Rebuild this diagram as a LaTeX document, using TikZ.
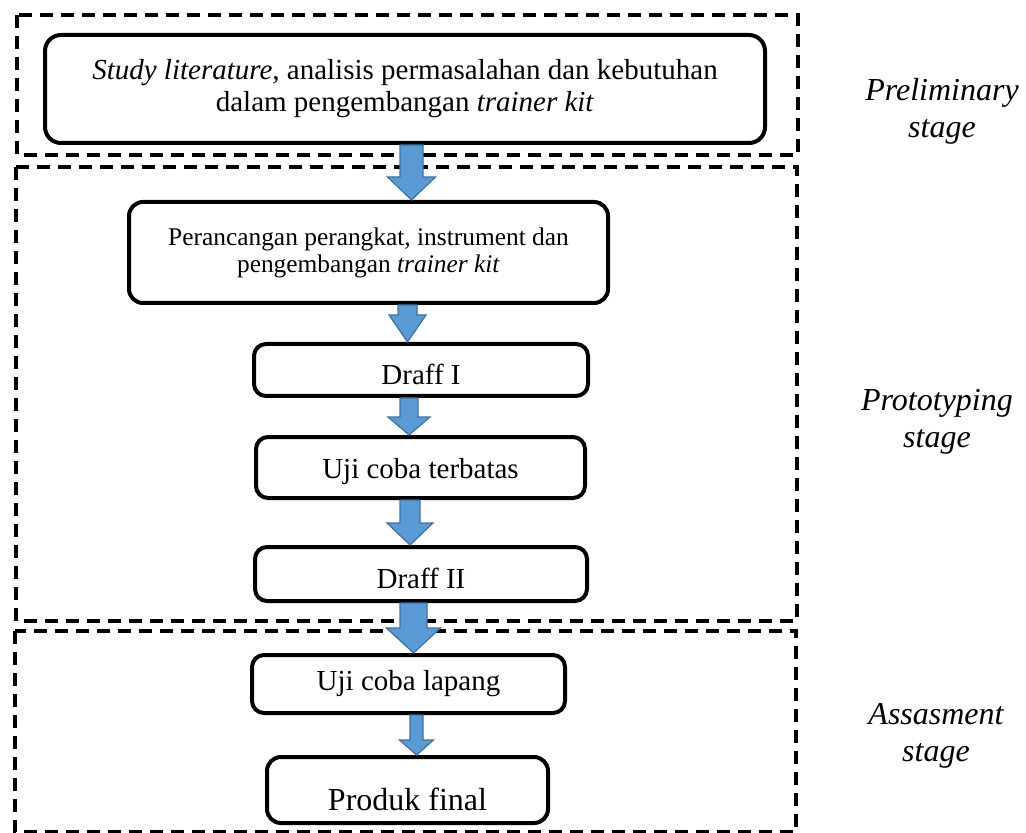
\documentclass[tikz,border=0pt]{standalone}
\usepackage{fontspec}
\setmainfont{Liberation Serif}
\usetikzlibrary{calc}

\definecolor{arrowblue}{HTML}{5B9BD5}
\definecolor{arrowedge}{HTML}{41719C}

\tikzset{
  stepbox/.style={draw, line width=2pt, rounded corners=6pt, fill=white, align=center, inner sep=0pt},
  stageframe/.style={draw, line width=2.2pt, dash pattern=on 6.5pt off 4pt},
  stagelabel/.style={align=center, font=\fontsize{16}{18.5}\selectfont\itshape},
  blockarrow/.style={fill=arrowblue, draw=arrowedge, line width=0.6pt},
}

% block arrow: from, to, x, half shaft, half head, head length (px)
\newcommand{\flowarrow}[6]{%
  \draw[blockarrow] let \p1=(#1.south), \p2=(#2.north), \p3=(#3,0) in
    (\x3-#4*0.5pt,\y1) -- (\x3+#4*0.5pt,\y1) -- (\x3+#4*0.5pt,\y2+#6*0.5pt)
    -- (\x3+#5*0.5pt,\y2+#6*0.5pt) -- (\x3,\y2) -- (\x3-#5*0.5pt,\y2+#6*0.5pt)
    -- (\x3-#4*0.5pt,\y2+#6*0.5pt) -- cycle;}

\begin{document}
\begin{tikzpicture}[x={(0.5pt,0)}, y={(0,-0.5pt)}]

    % Page
    \fill[white] (0,0) rectangle (1026,833);
    \useasboundingbox (0,0) rectangle (1026,833);

    % Dashed frames of the stages
    \draw[stageframe] (17,15) rectangle (798,155);  % preliminary
    \draw[stageframe] (16,167) rectangle (797,621); % prototyping
    \draw[stageframe] (15,631) rectangle (796,832); % assasment

    % Steps
    \node[stepbox, rounded corners=8pt, minimum width=360pt, minimum height=54pt,
          font=\fontsize{14.5}{16}\selectfont] (study) at (405,89)
      {\textit{Study literature}, analisis permasalahan dan kebutuhan\\dalam pengembangan \textit{trainer kit}};
    \node[stepbox, rounded corners=7pt, minimum width=239.5pt, minimum height=50.5pt,
          font=\fontsize{12.7}{13.5}\selectfont] (design) at (368.5,252.5)
      {Perancangan perangkat, instrument dan\\pengembangan \textit{trainer kit}};
    \node[stepbox, minimum width=167pt, minimum height=26pt, text depth=0pt, text height=14.6pt,
          font=\fontsize{14.5}{16}\selectfont] (draft1) at (421,370) {Draff I};
    \node[stepbox, minimum width=164.5pt, minimum height=30.5pt, text depth=0pt, text height=11pt,
          font=\fontsize{14.5}{16}\selectfont] (limited) at (420.5,467.5) {Uji coba terbatas};
    \node[stepbox, minimum width=166pt, minimum height=27pt, text depth=0pt, text height=14.6pt,
          font=\fontsize{14.5}{16}\selectfont] (draft2) at (421,574) {Draff II};
    \node[stepbox, minimum width=156.5pt, minimum height=29pt, text depth=0pt, text height=6.6pt,
          font=\fontsize{14.5}{16}\selectfont] (field) at (408.5,684) {Uji coba lapang};
    \node[stepbox, rounded corners=7pt, minimum width=140.5pt, minimum height=33pt, text depth=0pt, text height=20.6pt,
          font=\fontsize{16}{18}\selectfont] (final) at (407.5,790) {Produk final};

    % Arrows between the steps
    \flowarrow{study}{design}{411.5}{11.5}{24}{23}
    \flowarrow{design}{draft1}{407.5}{9.5}{18.5}{27}
    \flowarrow{draft1}{limited}{409}{9}{21}{18}
    \flowarrow{limited}{draft2}{410}{10}{23}{22}
    \flowarrow{draft2}{field}{413.5}{13.5}{27}{25}
    \flowarrow{field}{final}{416.5}{6.5}{17}{15}

    % Stage names
    \node[stagelabel] (prelim) at (942,111) {Preliminary\\stage};
    \node[stagelabel] (proto) at (937,422) {Prototyping\\stage};
    \node[stagelabel] (assess) at (936,736) {Assasment\\stage};

\end{tikzpicture}
\end{document}
